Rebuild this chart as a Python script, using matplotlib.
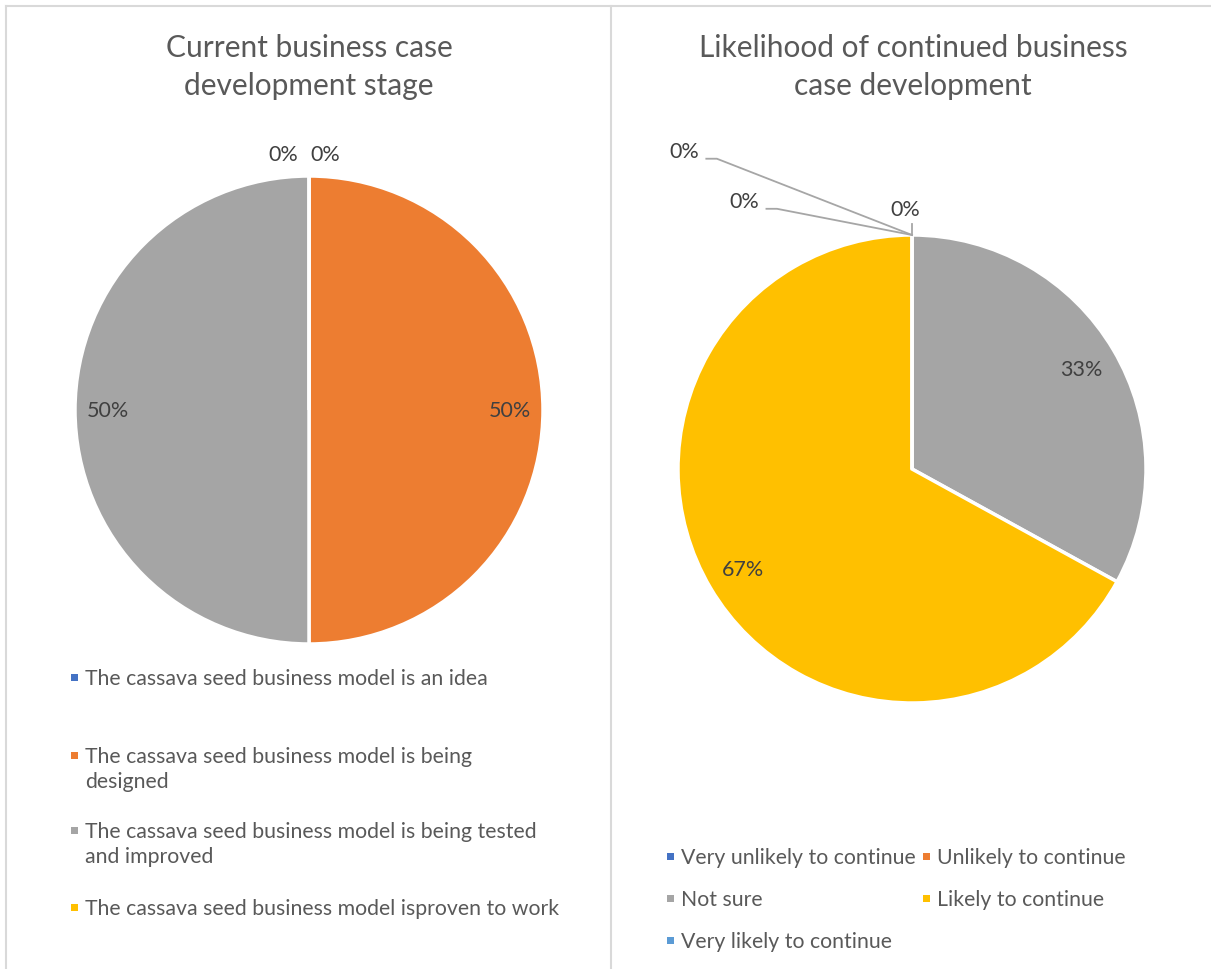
import numpy as np
import matplotlib.pyplot as plt
from matplotlib.patches import Rectangle
from matplotlib.lines import Line2D

plt.rcParams['font.family'] = ['Lato', 'DejaVu Sans']

# stage of the business case
stage_labels = [
    "The cassava seed business model is an idea",
    "The cassava seed business model is being\ndesigned",
    "The cassava seed business model is being tested\nand improved",
    "The cassava seed business model isproven to work",
]
stage_pct = [0, 50, 50, 0]
stage_colors = ["#4472C4", "#ED7D31", "#A5A5A5", "#FFC000"]

# likelihood of continuing
likely_labels = [
    "Very unlikely to continue",
    "Unlikely to continue",
    "Not sure",
    "Likely to continue",
    "Very likely to continue",
]
likely_pct = [0, 0, 33, 67, 0]
likely_colors = ["#4472C4", "#ED7D31", "#A5A5A5", "#FFC000", "#5B9BD5"]

W, H = 1211, 970
TXT = "#404040"
LEG = "#595959"
LINE = "#D9D9D9"
PCT_SIZE = 15.5
LEG_SIZE = 15.3

fig = plt.figure(figsize=(W / 100, H / 100), dpi=100)


def fx(px):
    return px / W


def fy(py):
    return 1 - py / H


def pie_axes(cx, cy, r):
    return fig.add_axes([fx(cx - r), fy(cy + r), 2 * r / W, 2 * r / H])


def mid_angles(vals):
    # clockwise from 12 o'clock, degrees
    tot = float(sum(vals))
    cum = np.cumsum([0] + list(vals))
    return [(cum[i] + vals[i] / 2) / tot * 360 for i in range(len(vals))]


def edge_point(angle, r=1.0):
    a = np.deg2rad(angle)
    return r * np.sin(a), r * np.cos(a)


def draw_pie(ax, vals, colors):
    ax.pie(vals, colors=colors, startangle=90, counterclock=False,
           wedgeprops=dict(edgecolor="white", linewidth=2.5))
    ax.set_xlim(-1, 1)
    ax.set_ylim(-1, 1)
    ax.set_aspect("equal")
    ax.axis("off")


# chart frames
fig.add_artist(Line2D([fx(6), fx(6)], [fy(7), 0], color=LINE, lw=1.5))
fig.add_artist(Line2D([fx(6), 1], [fy(7), fy(7)], color=LINE, lw=1.5))
fig.add_artist(Line2D([fx(610.5), fx(610.5)], [fy(7), 0], color=LINE, lw=1.5))

# titles
fig.text(fx(309), fy(67), "Current business case\ndevelopment stage",
         ha="center", va="center", fontsize=21.5, color=LEG, linespacing=1.42)
fig.text(fx(913), fy(67), "Likelihood of continued business\ncase development",
         ha="center", va="center", fontsize=21.5, color=LEG, linespacing=1.42)

# ---- left pie ----
ax1 = pie_axes(309, 411, 234)
draw_pie(ax1, stage_pct, stage_colors)
angs = mid_angles(stage_pct)
for i, v in enumerate(stage_pct):
    if v > 0:
        x, y = edge_point(angs[i], 0.86)
        ax1.text(x, y, f"{v}%", ha="center", va="center", fontsize=PCT_SIZE, color=TXT)
# zero slices sit on top, labels pushed apart
ax1.text(0.068, 1.094, f"{stage_pct[0]}%", ha="center", va="center", fontsize=PCT_SIZE, color=TXT)
ax1.text(-0.11, 1.094, f"{stage_pct[3]}%", ha="center", va="center", fontsize=PCT_SIZE, color=TXT)

# ---- right pie ----
ax2 = pie_axes(912, 470, 234)
draw_pie(ax2, likely_pct, likely_colors)
angs = mid_angles(likely_pct)
for i, v in enumerate(likely_pct):
    if v > 0:
        x, y = edge_point(angs[i], 0.84)
        ax2.text(x, y, f"{v}%", ha="center", va="center", fontsize=PCT_SIZE, color=TXT)

# zero slices with leader lines back to the rim
zero_pos = {0: (-0.03, 1.11), 1: (-0.717, 1.146), 4: (-0.974, 1.36)}
for i, (tx, ty) in zero_pos.items():
    ax2.text(tx, ty, f"{likely_pct[i]}%", ha="center", va="center", fontsize=PCT_SIZE, color=TXT)
    px, py = edge_point(angs[i])
    if i == 0:
        ax2.plot([px, px], [py, py + 0.048], color="#A6A6A6", lw=1.3, clip_on=False)
    else:
        sx, sy = tx + 0.095, ty - 0.034
        ax2.plot([sx, sx + 0.045, px], [sy, sy, py], color="#A6A6A6", lw=1.3, clip_on=False)


# ---- legends ----
def legend_item(px, py, color, text):
    s = 7
    fig.add_artist(Rectangle((fx(px - s / 2), fy(py + 1 + s / 2)), s / W, s / H,
                             facecolor=color, edgecolor="none"))
    # one text per line so the swatch sits beside the first line
    for k, line in enumerate(text.split("\n")):
        fig.text(fx(px + 11), fy(py + 8 + 25 * k), line, ha="left", va="baseline",
                 fontsize=LEG_SIZE, color=LEG)


# left legend, one column
rows = [677, 755, 830, 907]
for lab, col, y in zip(stage_labels, stage_colors, rows):
    legend_item(74, y, col, lab)

# right legend, two columns
spots = [(670, 856), (926, 856), (670, 898), (926, 898), (670, 940)]
for lab, col, (x, y) in zip(likely_labels, likely_colors, spots):
    legend_item(x, y, col, lab)

fig.savefig("out.png", dpi=100)
